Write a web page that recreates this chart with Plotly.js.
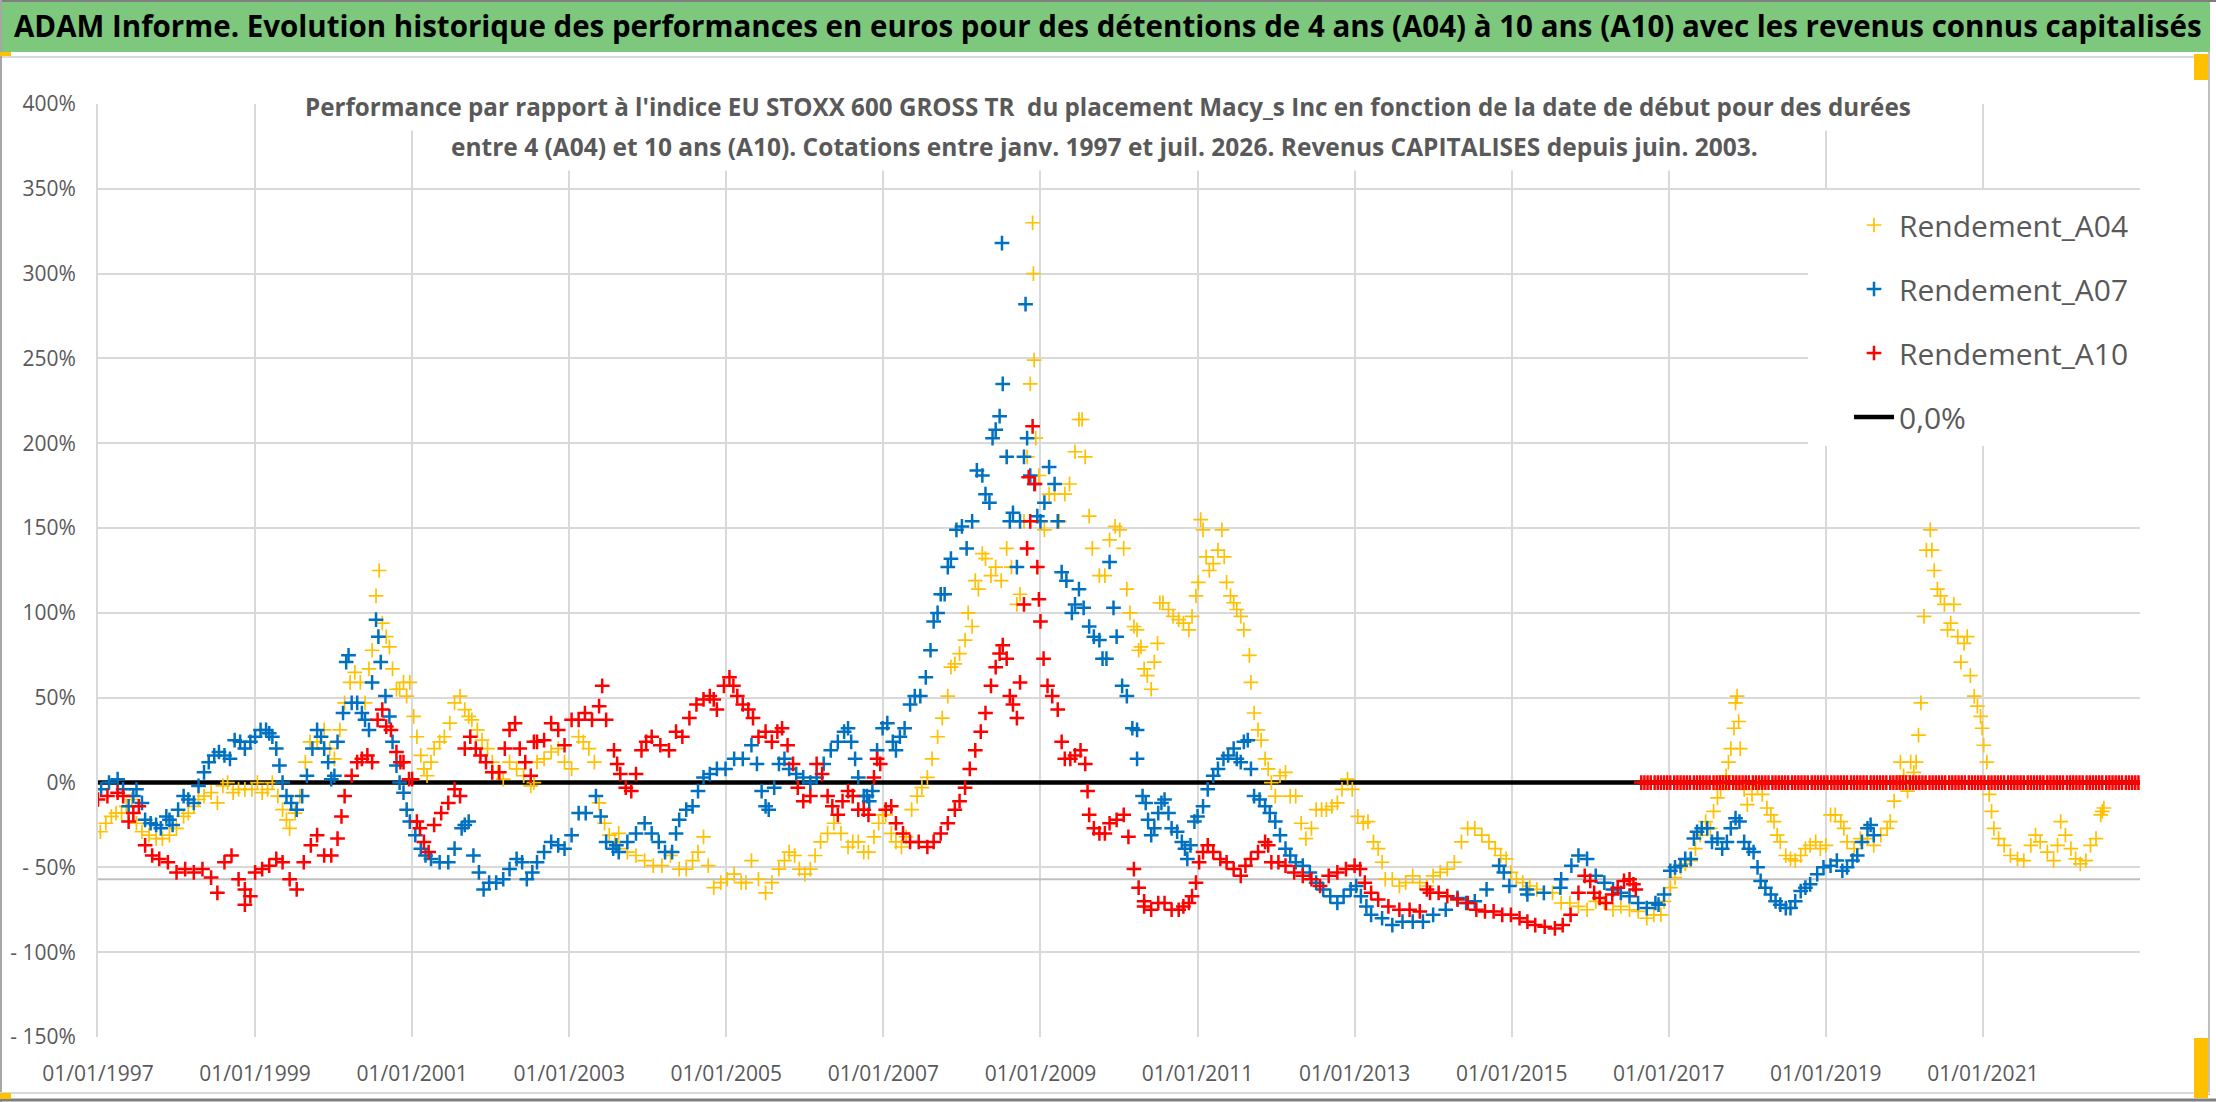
<!DOCTYPE html>
<html>
<head>
<meta charset="utf-8">
<script src="https://cdn.plot.ly/plotly-3.0.1.min.js"></script>
<style>
  body { margin: 0; background: #ffffff; }
  #plot { width: 2216px; height: 1102px; }
</style>
</head>
<body>
<div id="plot"></div>
<script>
// dates as decimal years, values in %
const yearsA04 = [1997.03,1997.17,1997.30,1997.43,1997.56,1997.74,1997.91,1998.09,1998.22,1998.35,1998.52,1998.65,1998.79,1998.96,
  1999.09,1999.22,1999.35,1999.44,1999.57,1999.70,1999.88,2000.01,2000.14,2000.27,2000.40,2000.49,2000.58,2000.62,2000.71,2000.80,
  2000.89,2000.97,2001.02,2001.11,2001.19,2001.28,2001.41,2001.54,2001.67,2001.76,2001.89,2002.02,2002.16,2002.33,2002.51,2002.59,
  2002.77,2002.94,2003.12,2003.25,2003.38,2003.51,2003.64,2003.74,2003.96,2004.18,2004.40,2004.57,2004.71,2004.84,2005.01,2005.19,
  2005.32,2005.50,2005.67,2005.80,2005.93,2006.07,2006.20,2006.37,2006.55,2006.68,2006.81,2006.94,2007.03,2007.16,2007.29,2007.43,
  2007.56,2007.69,2007.82,2007.91,2008.04,2008.13,2008.21,2008.30,2008.43,2008.57,2008.70,2008.79,2008.87,2008.90,2008.91,2008.94,
  2009.05,2009.18,2009.31,2009.44,2009.53,2009.62,2009.75,2009.88,2010.01,2010.10,2010.19,2010.28,2010.36,2010.45,2010.52,2010.63,
  2010.76,2010.89,2010.98,2011.04,2011.11,2011.20,2011.31,2011.37,2011.46,2011.55,2011.66,2011.72,2011.81,2011.90,2011.99,2012.12,
  2012.25,2012.38,2012.51,2012.64,2012.78,2012.91,2013.04,2013.17,2013.30,2013.39,2013.57,2013.74,2013.92,2014.09,2014.27,2014.44,
  2014.62,2014.79,2014.93,2015.06,2015.23,2015.41,2015.63,2015.85,2016.07,2016.29,2016.50,2016.72,2016.90,2017.02,2017.15,2017.28,
  2017.40,2017.53,2017.62,2017.70,2017.76,2017.83,2017.87,2017.91,2018.00,2018.13,2018.25,2018.34,2018.42,2018.55,2018.68,2018.80,
  2018.93,2019.06,2019.19,2019.27,2019.44,2019.61,2019.78,2019.87,2019.95,2020.04,2020.12,2020.18,2020.25,2020.33,2020.38,2020.46,
  2020.55,2020.63,2020.72,2020.80,2020.89,2020.97,2021.01,2021.08,2021.14,2021.27,2021.44,2021.61,2021.73,2021.90,2021.99,2022.12,
  2022.24,2022.37,2022.50,2022.54];
const rendA04 = [-29,-20,-18,-10,-29,-33,-31,-20,-14,-8,-12,0,-4,-4,
  -6,0,-16,-27,-8,24,31,14,47,65,47,78,125,94,80,55,
  59,59,39,16,4,20,27,47,43,37,25,12,2,8,-2,12,
  18,12,27,20,-12,-31,-39,-41,-46,-49,-51,-46,-32,-62,-57,-59,
  -46,-65,-51,-41,-51,-51,-35,-24,-38,-35,-41,-24,-19,-35,-32,-8,
  3,27,51,70,84,92,114,132,127,138,105,154,235,330,300,203,
  149,170,170,195,214,157,122,143,149,114,92,80,63,71,106,102,
  96,90,110,155,133,129,149,118,106,98,75,41,25,8,-8,6,
  -8,-33,-16,-16,-12,2,-20,-23,-39,-57,-61,-55,-61,-53,-47,-27,
  -31,-39,-45,-57,-61,-65,-71,-73,-70,-75,-75,-80,-78,-62,-50,-46,
  -31,-27,-9,0,12,32,51,20,-13,-2,-15,-23,-35,-45,-43,-37,
  -39,-19,-23,-35,-33,-37,-27,-11,12,-5,6,28,98,149,125,110,
  90,105,71,86,51,39,22,-7,-27,-37,-45,-37,-35,-46,-23,-39,
  -48,-37,-19,-15];
// second reading, between the first ones: [year, %]
const moreA04 = [
  [1997.10,-24],[1997.23,-18],[1997.36,-14],[1997.49,-24],[1997.65,-31],[1997.82,-33],[1998.00,-27],[1998.15,-18],
  [1998.28,-10],[1998.44,-6],[1998.59,-2],[1998.72,-6],[1998.87,-4],[1999.03,0],[1999.16,-4],[1999.29,-8],
  [1999.40,-22],[1999.51,-18],[1999.64,12],[1999.79,24],[1999.95,20],[2000.08,31],[2000.21,59],[2000.34,59],
  [2000.45,67],[2000.54,110],[2000.67,86],[2000.75,67],[2000.84,55],[2000.93,51],[2001.06,27],[2001.15,8],
  [2001.24,12],[2001.35,24],[2001.48,35],[2001.61,51],[2001.72,39],[2001.83,31],[2001.96,20],[2002.09,6],
  [2002.24,12],[2002.42,4],[2002.55,0],[2002.68,14],[2002.86,20],[2003.03,8],[2003.18,24],[2003.32,12],
  [2003.45,-24],[2003.58,-35],[2003.63,-30],[2003.85,-43],[2004.07,-49],[2004.29,-43],[2004.49,-51],[2004.64,-41],
  [2004.77,-49],[2004.93,-59],[2005.10,-54],[2005.25,-59],[2005.41,-57],[2005.58,-59],[2005.74,-46],[2005.87,-43],
  [2006.00,-54],[2006.13,-43],[2006.29,-30],[2006.46,-30],[2006.61,-35],[2006.75,-41],[2006.88,-32],[2006.99,-19],
  [2007.10,-30],[2007.23,-38],[2007.36,-16],[2007.49,-3],[2007.62,14],[2007.75,38],[2007.86,68],[2007.97,76],
  [2008.08,100],[2008.17,119],[2008.26,135],[2008.37,122],[2008.50,119],[2008.63,127],[2008.74,111],[2008.83,192],
  [2008.92,249],[2008.98,181],[2009.11,170],[2009.24,154],[2009.37,176],[2009.49,214],[2009.57,192],[2009.66,138],
  [2009.82,122],[2009.95,151],[2010.06,138],[2010.14,100],[2010.25,78],[2010.23,90],[2010.32,67],[2010.41,55],
  [2010.49,82],[2010.56,106],[2010.69,98],[2010.82,94],[2010.93,98],[2011.01,118],[2011.07,149],[2011.15,125],
  [2011.26,137],[2011.34,133],[2011.42,110],[2011.50,102],[2011.59,90],[2011.68,59],[2011.77,31],[2011.86,14],
  [2011.94,0],[2012.05,4],[2012.18,-8],[2012.32,-24],[2012.45,-27],[2012.58,-16],[2012.71,-14],[2012.84,-4],
  [2012.97,-4],[2013.11,-24],[2013.24,-35],[2013.35,-47],[2013.48,-57],[2013.65,-59],[2013.83,-59],[2014.00,-55],
  [2014.18,-51],[2014.36,-35],[2014.53,-27],[2014.71,-35],[2014.86,-43],[2014.99,-53],[2015.14,-59],[2015.32,-63],
  [2015.52,-65],[2015.74,-71],[2015.96,-75],[2016.18,-71],[2016.39,-73],[2016.61,-76],[2016.81,-78],[2016.94,-70],
  [2017.08,-56],[2017.21,-48],[2017.34,-39],[2017.47,-23],[2017.57,-17],[2017.66,-4],[2017.73,4],[2017.79,20],
  [2017.85,47],[2017.89,36],[2017.96,-4],[2018.06,-7],[2018.19,-7],[2018.30,-19],[2018.38,-31],[2018.49,-43],
  [2018.61,-46],[2018.74,-39],[2018.87,-35],[2019.00,-37],[2019.12,-19],[2019.23,-27],[2019.36,-39],[2019.53,-33],
  [2019.70,-31],[2019.82,-23],[2019.91,0],[2019.99,4],[2020.08,12],[2020.15,12],[2020.21,47],[2020.28,137],
  [2020.35,137],[2020.42,114],[2020.51,105],[2020.59,94],[2020.68,86],[2020.76,82],[2020.84,63],[2020.93,45],
  [2020.99,32],[2021.05,12],[2021.11,-17],[2021.20,-33],[2021.35,-43],[2021.52,-46],[2021.67,-31],[2021.82,-41],
  [2021.95,-37],[2022.05,-31],[2022.18,-45],[2022.31,-46],[2022.44,-33],[2022.52,-17]
];

const yearsA07 = [1997.04,1997.25,1997.39,1997.49,1997.60,1997.74,1997.87,1997.95,1998.09,1998.22,1998.35,1998.48,1998.61,1998.74,
  1998.87,1999.00,1999.14,1999.22,1999.31,1999.40,1999.53,1999.66,1999.79,1999.88,1999.97,2000.05,2000.16,2000.23,2000.36,2000.45,
  2000.54,2000.60,2000.71,2000.80,2000.89,2000.97,2001.11,2001.24,2001.46,2001.63,2001.72,2001.85,2001.98,2002.16,2002.33,2002.46,
  2002.59,2002.77,2002.94,2003.12,2003.34,2003.47,2003.60,2003.74,2003.96,2004.14,2004.31,2004.40,2004.57,2004.71,2004.88,2005.10,
  2005.32,2005.45,2005.54,2005.67,2005.80,2005.98,2006.15,2006.33,2006.50,2006.59,2006.68,2006.79,2006.86,2006.99,2007.12,2007.21,
  2007.34,2007.47,2007.60,2007.69,2007.78,2007.86,2008.00,2008.13,2008.26,2008.35,2008.43,2008.51,2008.52,2008.61,2008.70,2008.79,
  2008.81,2008.87,2008.96,2009.05,2009.18,2009.27,2009.40,2009.49,2009.62,2009.75,2009.84,2009.88,2009.97,2010.10,2010.23,2010.34,
  2010.41,2010.50,2010.58,2010.67,2010.80,2010.87,2010.96,2011.07,2011.20,2011.33,2011.46,2011.55,2011.64,2011.72,2011.86,2011.99,
  2012.12,2012.25,2012.43,2012.60,2012.78,2012.95,2013.08,2013.21,2013.48,2013.74,2014.00,2014.31,2014.53,2014.84,2014.97,2015.20,
  2015.41,2015.62,2015.85,2016.07,2016.29,2016.50,2016.72,2016.94,2017.02,2017.15,2017.28,2017.36,2017.49,2017.62,2017.74,2017.85,
  2017.96,2018.08,2018.17,2018.30,2018.42,2018.55,2018.68,2018.80,2018.97,2019.14,2019.27,2019.40,2019.53,2019.61];
const rendA07 = [-4,2,-14,-4,-22,-25,-20,-25,-8,-12,6,16,16,25,
  20,27,31,27,10,-8,-16,4,31,20,2,24,71,47,41,31,
  96,71,39,10,-6,-23,-39,-45,-47,-27,-23,-53,-59,-57,-45,-57,
  -47,-35,-39,-18,-8,-35,-37,-35,-24,-35,-41,-22,-14,3,8,14,
  22,-5,-16,11,8,3,3,19,30,24,3,-8,-5,32,24,27,
  46,51,78,100,111,132,151,154,181,165,208,318,235,154,127,192,
  282,181,157,165,176,124,100,114,92,84,73,130,86,51,14,-12,
  -31,-18,-10,-27,-35,-45,-23,-14,4,14,20,12,25,-8,-14,-23,
  -39,-47,-53,-63,-71,-63,-67,-78,-84,-82,-78,-68,-70,-49,-61,-66,
  -65,-62,-43,-55,-63,-67,-74,-66,-52,-49,-45,-29,-27,-33,-35,-21,
  -35,-41,-58,-66,-72,-74,-64,-60,-50,-46,-50,-43,-27,-31];
const moreA07 = [
  [1997.14,0],[1997.32,-4],[1997.45,-8],[1997.56,-12],[1997.67,-24],[1997.80,-27],[1997.91,-22],[1998.02,-16],
  [1998.15,-10],[1998.28,-2],[1998.41,12],[1998.54,18],[1998.68,14],[1998.81,24],[1998.94,24],[1999.07,31],
  [1999.18,29],[1999.27,20],[1999.35,0],[1999.46,-12],[1999.60,-8],[1999.73,20],[1999.84,27],[1999.93,12],
  [2000.01,4],[2000.12,41],[2000.19,75],[2000.30,47],[2000.40,37],[2000.49,59],[2000.57,86],[2000.66,51],
  [2000.75,24],[2000.84,0],[2000.93,-16],[2001.04,-31],[2001.17,-43],[2001.35,-47],[2001.54,-39],[2001.67,-25],
  [2001.78,-43],[2001.91,-63],[2002.07,-59],[2002.24,-51],[2002.40,-47],[2002.53,-53],[2002.68,-41],[2002.86,-37],
  [2003.03,-31],[2003.21,-18],[2003.40,-20],[2003.56,-39],[2003.63,-41],[2003.85,-30],[2004.05,-30],[2004.22,-41],
  [2004.36,-30],[2004.49,-16],[2004.64,-5],[2004.79,5],[2004.99,8],[2005.21,14],[2005.39,11],[2005.50,-14],
  [2005.61,-3],[2005.74,14],[2005.89,5],[2006.07,0],[2006.24,11],[2006.42,24],[2006.55,32],[2006.64,14],
  [2006.75,-8],[2006.82,-11],[2006.92,19],[2007.05,35],[2007.16,19],[2007.27,32],[2007.40,51],[2007.54,62],
  [2007.64,95],[2007.73,111],[2007.82,127],[2007.93,149],[2008.06,138],[2008.19,184],[2008.30,170],[2008.39,203],
  [2008.48,216],[2008.57,192],[2008.65,159],[2008.74,154],[2008.83,203],[2008.92,176],[2009.00,154],[2009.11,186],
  [2009.22,154],[2009.33,119],[2009.44,105],[2009.55,103],[2009.68,86],[2009.79,73],[2009.93,103],[2010.04,57],
  [2010.17,32],[2010.30,-8],[2010.23,31],[2010.37,-22],[2010.45,-27],[2010.54,-12],[2010.63,-18],[2010.74,-29],
  [2010.84,-39],[2010.91,-37],[2011.00,-20],[2011.13,-4],[2011.26,8],[2011.39,16],[2011.50,14],[2011.59,24],
  [2011.68,8],[2011.79,-10],[2011.92,-18],[2012.05,-31],[2012.18,-43],[2012.34,-49],[2012.51,-59],[2012.69,-67],
  [2012.86,-67],[2013.02,-61],[2013.15,-73],[2013.35,-80],[2013.61,-82],[2013.87,-82],[2014.16,-75],[2014.42,-71],
  [2014.68,-63],[2014.90,-53],[2015.19,-63],[2015.63,-57],[2015.76,-49],[2015.96,-45],[2016.18,-59],[2016.39,-65],
  [2016.61,-71],[2016.83,-71],[2016.87,-72],[2017.08,-50],[2017.21,-45],[2017.32,-33],[2017.42,-27],[2017.55,-35],
  [2017.68,-39],[2017.79,-27],[2017.90,-23],[2018.02,-39],[2018.13,-50],[2018.23,-62],[2018.36,-70],[2018.49,-74],
  [2018.61,-70],[2018.74,-62],[2018.89,-54],[2019.06,-49],[2019.21,-52],[2019.34,-46],[2019.46,-35],[2019.57,-25]
];

const yearsA10 = [1997.00,1997.25,1997.39,1997.52,1997.60,1997.78,1998.00,1998.22,1998.44,1998.52,1998.70,1998.87,1999.00,1999.18,
  1999.35,1999.53,1999.62,1999.79,1999.97,2000.05,2000.14,2000.23,2000.36,2000.49,2000.56,2000.67,2000.80,2000.89,2001.00,2001.06,
  2001.15,2001.28,2001.46,2001.54,2001.67,2001.81,2001.94,2002.11,2002.24,2002.37,2002.51,2002.59,2002.77,2002.94,2003.12,2003.38,
  2003.47,2003.57,2003.65,2003.79,2003.92,2004.05,2004.27,2004.44,2004.62,2004.79,2004.88,2005.04,2005.14,2005.28,2005.41,2005.58,
  2005.71,2005.85,2005.98,2006.15,2006.29,2006.42,2006.55,2006.68,2006.81,2006.92,2007.03,2007.16,2007.34,2007.56,2007.73,2007.91,
  2008.04,2008.17,2008.30,2008.43,2008.52,2008.61,2008.70,2008.79,2008.85,2008.87,2008.90,2008.96,2009.00,2009.09,2009.22,2009.31,
  2009.44,2009.57,2009.62,2009.75,2009.88,2010.06,2010.19,2010.32,2010.41,2010.58,2010.76,2010.89,2010.98,2011.07,2011.20,2011.37,
  2011.55,2011.68,2011.86,2011.94,2012.12,2012.34,2012.56,2012.78,2013.00,2013.13,2013.30,2013.57,2013.83,2013.96,2014.18,2014.44,
  2014.66,2014.88,2015.10,2015.30,2015.55,2015.75,2015.93,2016.05,2016.20,2016.35,2016.50,2016.58,
  2016.65,2016.73,2016.82,2016.90,2016.98,2017.07,2017.15,2017.23,2017.32,2017.40,2017.48,2017.57,2017.65,2017.73,2017.82,2017.90,
  2017.98,2018.07,2018.15,2018.23,2018.32,2018.40,2018.48,2018.57,2018.65,2018.73,2018.82,2018.90,2018.98,2019.07,2019.15,2019.23,
  2019.32,2019.40,2019.48,2019.57,2019.65,2019.73,2019.82,2019.90,2019.98,2020.07,2020.15,2020.23,2020.32,2020.40,2020.48,2020.57,
  2020.65,2020.73,2020.82,2020.90,2020.98,2021.07,2021.15,2021.23,2021.32,2021.40,2021.48,2021.57,2021.65,2021.73,2021.82,2021.90,
  2021.98,2022.07,2022.15,2022.23,2022.32,2022.40,2022.48,2022.57,2022.65,2022.73,2022.82,2022.90,2022.98];
const rendA10 = [-10,-6,-23,-14,-37,-45,-53,-53,-56,-65,-43,-63,-53,-49,
  -47,-63,-47,-31,-43,-33,-8,4,14,12,37,33,18,12,2,-23,
  -35,-25,-12,-4,20,20,12,6,31,20,4,24,35,22,37,45,
  37,19,5,-5,19,27,19,27,46,51,43,62,51,43,27,24,
  32,11,-11,11,-8,-19,-5,-16,-19,14,-16,-24,-35,-38,-30,-16,
  -3,19,41,68,81,51,38,105,180,154,210,127,95,57,43,14,
  16,11,-19,-30,-24,-19,-51,-70,-75,-71,-75,-71,-59,-41,-41,-47,
  -55,-45,-35,-47,-49,-55,-61,-53,-49,-59,-69,-75,-76,-65,-67,-71,
  -76,-78,-80,-84,-86,-78,-55,-65,-71,-62,-57,-63,
  0,0,0,0,0,0,0,0,0,0,0,0,0,0,0,0,
  0,0,0,0,0,0,0,0,0,0,0,0,0,0,0,0,
  0,0,0,0,0,0,0,0,0,0,0,0,0,0,0,0,
  0,0,0,0,0,0,0,0,0,0,0,0,0,0,0,0,
  0,0,0,0,0,0,0,0,0,0,0,0,0];
const moreA10 = [
  [1997.12,-8],[1997.32,-8],[1997.45,-18],[1997.69,-43],[1997.89,-47],[1998.11,-51],[1998.33,-51],[1998.61,-47],
  [1998.79,-57],[1998.87,-72],[1998.94,-67],[1999.09,-51],[1999.27,-45],[1999.44,-57],[1999.71,-37],[1999.88,-43],
  [2000.10,-20],[2000.30,12],[2000.43,16],[2000.62,43],[2000.73,31],[2000.85,12],[2000.96,2],[2001.10,-27],
  [2001.21,-41],[2001.37,-18],[2001.61,-8],[2001.74,27],[2001.87,16],[2002.02,6],[2002.18,20],[2002.31,35],
  [2002.44,12],[2002.55,24],[2002.68,25],[2002.86,31],[2003.03,37],[2003.20,41],[2003.29,37],[2003.42,57],
  [2003.61,11],[2003.72,-3],[2003.85,5],[2003.98,24],[2004.16,22],[2004.36,30],[2004.53,38],[2004.71,49],
  [2004.84,49],[2004.97,57],[2005.09,57],[2005.21,46],[2005.34,38],[2005.50,30],[2005.65,30],[2005.78,22],
  [2005.91,-3],[2006.07,-8],[2006.22,5],[2006.35,-14],[2006.48,-11],[2006.61,-8],[2006.75,-16],[2006.88,3],
  [2006.96,11],[2007.10,-14],[2007.25,-30],[2007.45,-35],[2007.64,-35],[2007.82,-24],[2007.97,-11],[2008.10,8],
  [2008.24,30],[2008.37,57],[2008.48,76],[2008.57,73],[2008.65,46],[2008.74,59],[2008.83,138],[2008.93,176],
  [2008.98,108],[2009.04,73],[2009.15,51],[2009.27,24],[2009.38,14],[2009.51,19],[2009.60,-5],[2009.68,-27],
  [2009.82,-30],[2009.97,-22],[2010.12,-32],[2010.25,-62],[2010.32,-73],[2010.50,-71],[2010.67,-75],[2010.82,-73],
  [2010.93,-67],[2011.02,-47],[2011.13,-37],[2011.29,-45],[2011.46,-51],[2011.61,-49],[2011.77,-41],[2011.90,-37],
  [2012.03,-47],[2012.23,-53],[2012.45,-57],[2012.67,-55],[2012.89,-51],[2013.07,-51],[2013.21,-65],[2013.43,-73],
  [2013.70,-75],[2013.92,-63],[2014.07,-65],[2014.31,-69],[2014.55,-75],[2014.77,-76],[2014.99,-78],[2015.20,-82],
  [2015.42,-85],[2015.65,-84],[2015.85,-65],[2016.00,-58],[2016.12,-68],[2016.28,-66],[2016.43,-58],[2016.55,-60]
];
const zeroYearsA10 = [2016.69,2016.77,2016.86,2016.94,
  2017.02,2017.11,2017.19,2017.27,2017.36,2017.44,2017.52,2017.61,2017.69,2017.77,2017.86,2017.94,
  2018.02,2018.11,2018.19,2018.27,2018.36,2018.44,2018.52,2018.61,2018.69,2018.77,2018.86,2018.94,
  2019.02,2019.11,2019.19,2019.27,2019.36,2019.44,2019.52,2019.61,2019.69,2019.77,2019.86,2019.94,
  2020.02,2020.11,2020.19,2020.27,2020.36,2020.44,2020.52,2020.61,2020.69,2020.77,2020.86,2020.94,
  2021.02,2021.11,2021.19,2021.27,2021.36,2021.44,2021.52,2021.61,2021.69,2021.77,2021.86,2021.94,
  2022.02,2022.11,2022.19,2022.27,2022.36,2022.44,2022.52,2022.61,2022.69,2022.77,2022.86,2022.94];
const zeroRendA10 = [0,0,0,0,
  0,0,0,0,0,0,0,0,0,0,0,0,
  0,0,0,0,0,0,0,0,0,0,0,0,
  0,0,0,0,0,0,0,0,0,0,0,0,
  0,0,0,0,0,0,0,0,0,0,0,0,
  0,0,0,0,0,0,0,0,0,0,0,0,
  0,0,0,0,0,0,0,0,0,0,0,0];

const refYears = [1997, 2023];
const zeroLine = [0, 0];
const greyLine = [-57, -57];

const tickYears = [1997,1999,2001,2003,2005,2007,2009,2011,2013,2015,2017,2019,2021];
const tickDates = ['01/01/1997','01/01/1999','01/01/2001','01/01/2003','01/01/2005','01/01/2007','01/01/2009',
  '01/01/2011','01/01/2013','01/01/2015','01/01/2017','01/01/2019','01/01/2021'];
const tickPct = [-150,-100,-50,0,50,100,150,200,250,300,350,400];
const tickPctText = ['- 150%','- 100%','- 50%','0%','50%','100%','150%','200%','250%','300%','350%','400%'];

const textFont = 'Open Sans, sans-serif';
const grey = '#595959';

// pixel position -> paper fraction (plot area 98..2140 x 104..1037)
function px(x) { return (x - 98) / 2042; }
function py(y) { return (1037 - y) / 933; }

function crossTrace(name, x, y, color, lw, rank) {
  return {
    x: x, y: y, name: name, type: 'scatter', mode: 'markers',
    legendgroup: name, legendrank: rank,
    marker: { symbol: 'cross-thin', size: 10.5, color: color, line: { width: lw, color: color } },
    hoverinfo: 'x+y'
  };
}

let xA04 = yearsA04.concat(moreA04.map(p => p[0]));
let yA04 = rendA04.concat(moreA04.map(p => p[1]));
let xA07 = yearsA07.concat(moreA07.map(p => p[0]));
let yA07 = rendA07.concat(moreA07.map(p => p[1]));
let xA10 = yearsA10.concat(moreA10.map(p => p[0]), zeroYearsA10);
let yA10 = rendA10.concat(moreA10.map(p => p[1]), zeroRendA10);

let traces = [
  { x: refYears, y: greyLine, type: 'scatter', mode: 'lines', showlegend: false,
    line: { color: '#bfbfbf', width: 2 }, hoverinfo: 'skip' },
  { x: refYears, y: zeroLine, type: 'scatter', mode: 'lines', name: '0,0%',
    legendgroup: 'zero', legendrank: 4, line: { color: '#000000', width: 4.5 } },
  crossTrace('Rendement_A04', xA04, yA04, '#FFC000', 1.7, 1),
  crossTrace('Rendement_A07', xA07, yA07, '#0070C0', 2.5, 2),
  crossTrace('Rendement_A10', xA10, yA10, '#FF0000', 2.5, 3)
];

const layout = {
  width: 2216,
  height: 1102,
  margin: { l: 98, r: 76, t: 104, b: 65 },
  paper_bgcolor: '#ffffff',
  plot_bgcolor: '#ffffff',
  showlegend: true,
  xaxis: {
    range: [1997, 2023],
    tickvals: tickYears,
    ticktext: tickDates,
    showgrid: true,
    gridcolor: '#d9d9d9',
    gridwidth: 2,
    zeroline: false,
    showline: false,
    ticks: '',
    ticklabelstandoff: 22,
    tickfont: { family: textFont, size: 21, color: grey }
  },
  yaxis: {
    range: [-150, 400],
    tickvals: tickPct,
    ticktext: tickPctText,
    showgrid: true,
    gridcolor: '#d9d9d9',
    gridwidth: 2,
    zeroline: false,
    showline: true,
    linecolor: '#d9d9d9',
    linewidth: 2,
    ticks: '',
    ticklabelstandoff: 16,
    tickfont: { family: textFont, size: 21, color: grey }
  },
  legend: {
    x: px(1849), y: py(199), xanchor: 'left', yanchor: 'top',
    bgcolor: 'rgba(0,0,0,0)',
    traceorder: 'grouped',
    tracegroupgap: 22,
    itemwidth: 40,
    font: { family: textFont, size: 30, color: grey }
  },
  shapes: [
    // green title band
    { type: 'rect', xref: 'paper', yref: 'paper', x0: px(0), x1: px(2210), y0: py(52), y1: py(0),
      fillcolor: '#7DC87D', line: { width: 0 }, layer: 'below' },
    { type: 'line', xref: 'paper', yref: 'paper', x0: px(0), x1: px(2216), y0: py(1), y1: py(1),
      line: { color: '#7f7f7f', width: 2 } },
    { type: 'line', xref: 'paper', yref: 'paper', x0: px(0), x1: px(2210), y0: py(57), y1: py(57),
      line: { color: '#d9d9d9', width: 2 } },
    // white box behind the legend
    { type: 'rect', xref: 'paper', yref: 'paper', x0: px(1808), x1: px(2141), y0: py(446), y1: py(190),
      fillcolor: '#ffffff', line: { width: 0 }, layer: 'above' },
    // chart frame
    { type: 'line', xref: 'paper', yref: 'paper', x0: px(1), x1: px(1), y0: py(0), y1: py(1102),
      line: { color: '#a6a6a6', width: 2 } },
    { type: 'line', xref: 'paper', yref: 'paper', x0: px(2209), x1: px(2209), y0: py(52), y1: py(1095),
      line: { color: '#bfbfbf', width: 2 } },
    { type: 'line', xref: 'paper', yref: 'paper', x0: px(0), x1: px(2210), y0: py(1093), y1: py(1093),
      line: { color: '#d9d9d9', width: 2 } },
    { type: 'line', xref: 'paper', yref: 'paper', x0: px(0), x1: px(2216), y0: py(1100), y1: py(1100),
      line: { color: '#7f7f7f', width: 3 } },
    // selection handles
    { type: 'rect', xref: 'paper', yref: 'paper', x0: px(2194), x1: px(2208), y0: py(1098), y1: py(1038),
      fillcolor: '#FFC000', line: { width: 0 } },
    { type: 'rect', xref: 'paper', yref: 'paper', x0: px(2194), x1: px(2208), y0: py(80), y1: py(54),
      fillcolor: '#FFC000', line: { width: 0 } },
    { type: 'rect', xref: 'paper', yref: 'paper', x0: px(0), x1: px(11), y0: py(1099), y1: py(1093),
      fillcolor: '#FFC000', line: { width: 0 } },
    { type: 'rect', xref: 'paper', yref: 'paper', x0: px(0), x1: px(11), y0: py(56), y1: py(52),
      fillcolor: '#FFC000', line: { width: 0 } }
  ],
  annotations: [
    { text: 'ADAM Informe. Evolution historique des performances en euros pour des détentions de 4 ans (A04) à 10 ans (A10) avec les revenus connus capitalisés',
      xref: 'paper', yref: 'paper', x: px(1108), y: py(26), xanchor: 'center', yanchor: 'middle',
      showarrow: false, font: { family: textFont, size: 29.5, color: '#000000', weight: 'bold' } },
    { text: "Performance par rapport à l'indice EU STOXX 600 GROSS TR  du placement Macy_s Inc en fonction de la date de début pour des durées",
      xref: 'paper', yref: 'paper', x: px(1108), y: py(106), xanchor: 'center', yanchor: 'middle',
      showarrow: false, bgcolor: '#ffffff', borderpad: 7,
      font: { family: textFont, size: 24.2, color: grey, weight: 'bold' } },
    { text: 'entre 4 (A04) et 10 ans (A10). Cotations entre janv. 1997 et juil. 2026. Revenus CAPITALISES depuis juin. 2003.',
      xref: 'paper', yref: 'paper', x: px(1104), y: py(147), xanchor: 'center', yanchor: 'middle',
      showarrow: false, bgcolor: '#ffffff', borderpad: 7,
      font: { family: textFont, size: 24.5, color: grey, weight: 'bold' } }
  ]
};

Plotly.newPlot('plot', traces, layout, { displayModeBar: false, staticPlot: true });
</script>
</body>
</html>
